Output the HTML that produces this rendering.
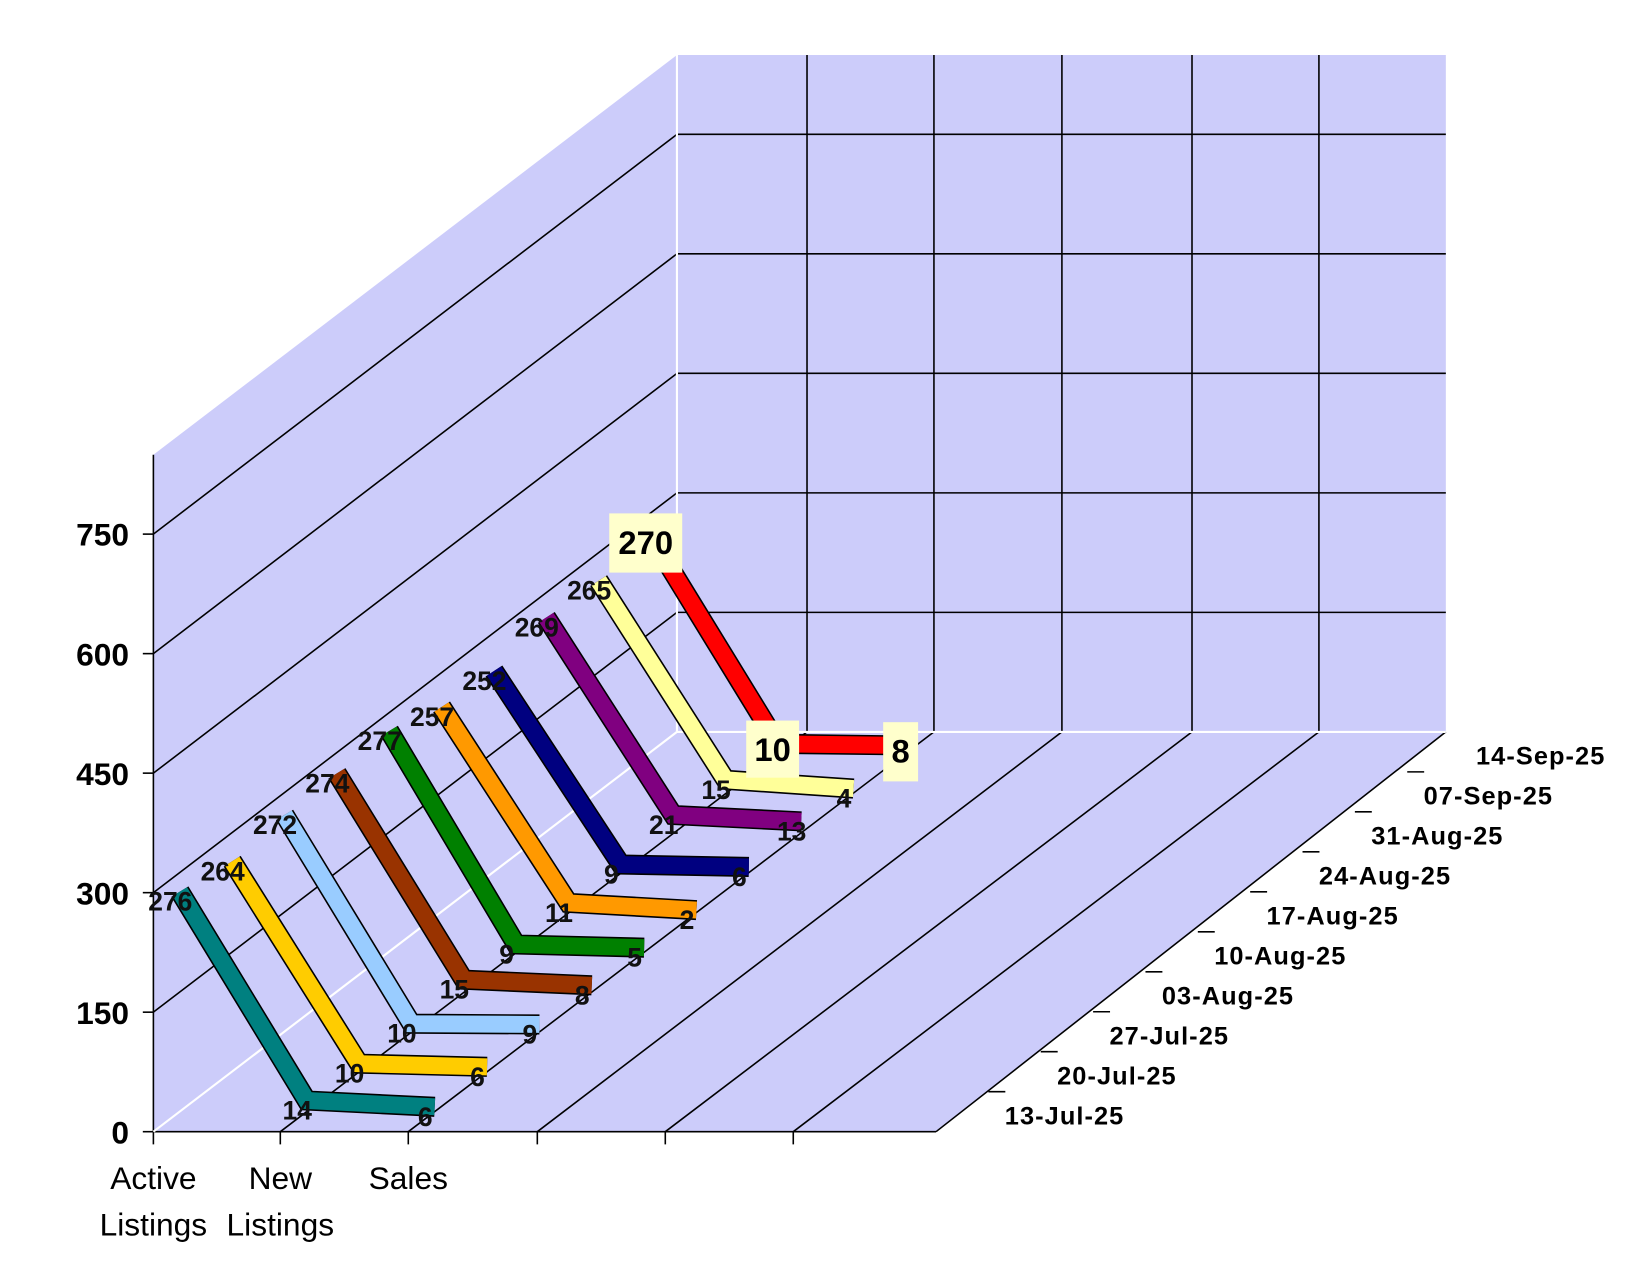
<!DOCTYPE html>
<html><head><meta charset="utf-8"><style>html,body{margin:0;padding:0;background:#fff}svg{display:block}</style></head>
<body>
<svg width="1650" height="1275" viewBox="0 0 1560 1205.5" xmlns="http://www.w3.org/2000/svg" font-family="Liberation Sans, Arial, sans-serif">
<polygon points="145,430 640,52 640,692 145,1070" fill="#ccccfa"/>
<polygon points="640,52 1367,52 1367,692 640,692" fill="#ccccfa"/>
<polygon points="145,1070 885,1070 1367,692 640,692" fill="#ccccfa"/>
<g stroke="#000" stroke-width="1.5">
<line x1="145" y1="957" x2="640" y2="579"/><line x1="145" y1="844" x2="640" y2="466"/>
<line x1="145" y1="731" x2="640" y2="353"/><line x1="145" y1="618" x2="640" y2="240"/>
<line x1="145" y1="505" x2="640" y2="127"/>
<line x1="640" y1="579" x2="1367" y2="579"/><line x1="640" y1="466" x2="1367" y2="466"/>
<line x1="640" y1="353" x2="1367" y2="353"/><line x1="640" y1="240" x2="1367" y2="240"/>
<line x1="640" y1="127" x2="1367" y2="127"/>
<line x1="763" y1="52" x2="763" y2="692"/><line x1="883" y1="52" x2="883" y2="692"/>
<line x1="1004" y1="52" x2="1004" y2="692"/><line x1="1127" y1="52" x2="1127" y2="692"/>
<line x1="1247" y1="52" x2="1247" y2="692"/>
<line x1="265" y1="1070" x2="763" y2="692"/><line x1="386" y1="1070" x2="883" y2="692"/>
<line x1="508" y1="1070" x2="1004" y2="692"/><line x1="629" y1="1070" x2="1127" y2="692"/>
<line x1="750" y1="1070" x2="1247" y2="692"/><line x1="885" y1="1070" x2="1367" y2="692"/>
<line x1="145" y1="430" x2="145" y2="1082"/><line x1="145" y1="1070" x2="885" y2="1070"/>
<line x1="135" y1="1070" x2="145" y2="1070"/><line x1="135" y1="957" x2="145" y2="957"/>
<line x1="135" y1="844" x2="145" y2="844"/><line x1="135" y1="731" x2="145" y2="731"/>
<line x1="135" y1="618" x2="145" y2="618"/><line x1="135" y1="505" x2="145" y2="505"/>
<line x1="265" y1="1070" x2="265" y2="1082"/><line x1="386" y1="1070" x2="386" y2="1082"/>
<line x1="508" y1="1070" x2="508" y2="1082"/><line x1="629" y1="1070" x2="629" y2="1082"/>
<line x1="750" y1="1070" x2="750" y2="1082"/>
<line x1="934.5" y1="1032.2" x2="950.5" y2="1032.2"/><line x1="984" y1="994.4" x2="1000" y2="994.4"/>
<line x1="1033.5" y1="956.6" x2="1049.5" y2="956.6"/><line x1="1083" y1="918.8" x2="1099" y2="918.8"/>
<line x1="1132.5" y1="881" x2="1148.5" y2="881"/><line x1="1182" y1="843.2" x2="1198" y2="843.2"/>
<line x1="1231.5" y1="805.4" x2="1247.5" y2="805.4"/><line x1="1281" y1="767.6" x2="1297" y2="767.6"/>
<line x1="1330.5" y1="729.8" x2="1346.5" y2="729.8"/>
</g>
<g stroke="#fff" stroke-width="2">
<line x1="145" y1="1070" x2="640" y2="692"/><line x1="640" y1="52" x2="640" y2="692"/>
<line x1="640" y1="692" x2="1367" y2="692"/>
</g>
<g font-size="30" font-weight="bold" text-anchor="end">
<text x="122" y="1081">0</text><text x="122" y="968">150</text><text x="122" y="855">300</text>
<text x="122" y="742">450</text><text x="122" y="629">600</text><text x="122" y="516">750</text>
</g>
<g font-size="30" text-anchor="middle">
<text x="145" y="1124">Active</text><text x="145" y="1168">Listings</text>
<text x="265" y="1124">New</text><text x="265" y="1168">Listings</text>
<text x="386" y="1124">Sales</text>
</g>
<g fill="none" stroke-linejoin="miter">
<polyline points="615.5,507.4 735.5,703.3 856.5,704.8" stroke="#000" stroke-width="19"/><polyline points="615.5,507.4 735.5,703.3 856.5,704.8" stroke="#FF0000" stroke-width="16"/>
<polyline points="566,549 686,737.3 807,745.6" stroke="#000" stroke-width="19"/><polyline points="566,549 686,737.3 807,745.6" stroke="#FFFF99" stroke-width="16"/>
<polyline points="516.5,583.8 636.5,770.6 757.5,776.6" stroke="#000" stroke-width="19"/><polyline points="516.5,583.8 636.5,770.6 757.5,776.6" stroke="#800080" stroke-width="16"/>
<polyline points="467,634.4 587,817.4 708,819.7" stroke="#000" stroke-width="19"/><polyline points="467,634.4 587,817.4 708,819.7" stroke="#000080" stroke-width="16"/>
<polyline points="417.5,668.4 537.5,853.7 658.5,860.5" stroke="#000" stroke-width="19"/><polyline points="417.5,668.4 537.5,853.7 658.5,860.5" stroke="#FF9900" stroke-width="16"/>
<polyline points="368,691.1 488,893 609,896" stroke="#000" stroke-width="19"/><polyline points="368,691.1 488,893 609,896" stroke="#008000" stroke-width="16"/>
<polyline points="318.5,731.2 438.5,926.3 559.5,931.6" stroke="#000" stroke-width="19"/><polyline points="318.5,731.2 438.5,926.3 559.5,931.6" stroke="#993300" stroke-width="16"/>
<polyline points="269,770.5 389,967.9 510,968.6" stroke="#000" stroke-width="19"/><polyline points="269,770.5 389,967.9 510,968.6" stroke="#99CCFF" stroke-width="16"/>
<polyline points="219.5,814.3 339.5,1005.7 460.5,1008.7" stroke="#000" stroke-width="19"/><polyline points="219.5,814.3 339.5,1005.7 460.5,1008.7" stroke="#FFCC00" stroke-width="16"/>
<polyline points="170,843 290,1040.5 411,1046.5" stroke="#000" stroke-width="19"/><polyline points="170,843 290,1040.5 411,1046.5" stroke="#008080" stroke-width="16"/>
</g>
<g font-size="25" font-weight="bold" text-anchor="middle" fill="#111">
<text x="557" y="567">265</text><text x="677" y="755.3">15</text><text x="798" y="763.6">4</text>
<text x="507.5" y="601.8">269</text><text x="627.5" y="788.6">21</text><text x="748.5" y="794.6">13</text>
<text x="458" y="652.4">252</text><text x="578" y="835.4">9</text><text x="699" y="837.7">6</text>
<text x="408.5" y="686.4">257</text><text x="528.5" y="871.7">11</text><text x="649.5" y="878.5">2</text>
<text x="359" y="709.1">277</text><text x="479" y="911">9</text><text x="600" y="914">5</text>
<text x="309.5" y="749.2">274</text><text x="429.5" y="944.3">15</text><text x="550.5" y="949.6">8</text>
<text x="260" y="788.5">272</text><text x="380" y="985.9">10</text><text x="501" y="986.6">9</text>
<text x="210.5" y="832.3">264</text><text x="330.5" y="1023.7">10</text><text x="451.5" y="1026.7">6</text>
<text x="161" y="861">276</text><text x="281" y="1058.5">14</text><text x="402" y="1064.5">6</text>
</g>
<rect x="576" y="485.4" width="69" height="56" fill="#FFFFCC"/>
<rect x="705.5" y="681.3" width="50" height="54" fill="#FFFFCC"/>
<rect x="835" y="682.8" width="33" height="56" fill="#FFFFCC"/>
<g font-size="31" font-weight="bold" text-anchor="middle">
<text x="610.5" y="524">270</text><text x="730.5" y="719.3">10</text><text x="851.5" y="721">8</text>
</g>
<g font-size="24" font-weight="bold" letter-spacing="1">
<text x="950" y="1063">13-Jul-25</text><text x="999.5" y="1025.2">20-Jul-25</text>
<text x="1049" y="987.4">27-Jul-25</text><text x="1098.5" y="949.6">03-Aug-25</text>
<text x="1148" y="911.8">10-Aug-25</text><text x="1197.5" y="874">17-Aug-25</text>
<text x="1247" y="836.2">24-Aug-25</text><text x="1296.5" y="798.4">31-Aug-25</text>
<text x="1346" y="760.6">07-Sep-25</text><text x="1395.5" y="722.8">14-Sep-25</text>
</g>
</svg>
</body></html>
